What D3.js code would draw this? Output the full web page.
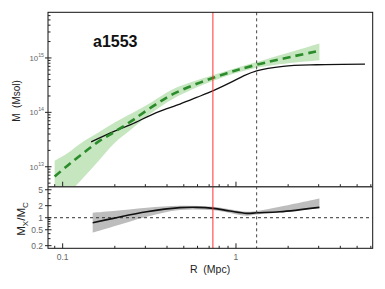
<!DOCTYPE html>
<html>
<head>
<meta charset="utf-8">
<script src="https://cdn.jsdelivr.net/npm/d3@7"></script>
<style>
  body { margin: 0; background: #fff; }
  svg { display: block; font-family: "Liberation Sans", Arial, sans-serif; }
</style>
</head>
<body>
<div id="chart"></div>
<script>
// cumulative mass profiles
const greenR   = [0.0899, 0.107, 0.128, 0.160, 0.1995, 0.249, 0.324, 0.435, 0.740, 1.316, 3.03];
const greenM   = [6.6e12, 1.06e13, 1.67e13, 2.86e13, 4.4e13, 6.9e13, 1.23e14, 2.18e14, 4.32e14, 7.5e14, 1.35e15];
const greenLo  = [1.68e12, 3.1e12, 5.7e12, 1.25e13, 2.74e13, 4.9e13, 9.6e13, 1.78e14, 3.8e14, 6.6e14, 9.1e14];
const greenHi  = [1.29e13, 1.79e13, 2.74e13, 4.2e13, 6.5e13, 9.5e13, 1.52e14, 2.68e14, 4.85e14, 8.4e14, 1.85e15];

const blackR = [0.146, 0.1995, 0.249, 0.347, 0.475, 0.593, 0.740, 0.965, 1.10, 1.316, 1.87, 2.92, 5.55];
const blackM = [2.86e13, 4.5e13, 6.0e13, 9.9e13, 1.42e14, 1.88e14, 2.51e14, 3.75e14, 4.65e14, 5.8e14, 7.0e14, 7.5e14, 7.7e14];

// mass ratio Mx/Mc
const ratioR  = [0.149, 0.196, 0.305, 0.475, 0.593, 0.740, 0.923, 1.153, 1.316, 1.79, 3.03];
const ratio   = [0.75, 0.966, 1.41, 1.78, 1.82, 1.72, 1.47, 1.29, 1.33, 1.41, 1.82];
const ratioR2 = [0.149, 0.196, 0.305, 0.475, 0.740, 1.153, 1.316, 1.79, 3.03];
const ratioLo = [0.42, 0.60, 1.06, 1.56, 1.53, 1.12, 1.2, 1.35, 1.75];
const ratioHi = [1.33, 1.47, 1.78, 2.0, 1.88, 1.41, 1.48, 1.88, 3.02];

const rRed = 0.736;      // red vertical
const rDashed = 1.316;   // black dashed vertical

const topMajor = [1e13, 1e14, 1e15];
const botMajor = [0.2, 0.5, 1, 2, 5];
const botMinor = [0.3, 0.4, 0.6, 0.7, 0.8, 0.9, 3, 4];
const xMajor = [0.1, 1];
const xMinor = [0.09, 0.2, 0.3, 0.4, 0.5, 0.6, 0.7, 0.8, 0.9, 2, 3, 4, 5, 6];

const W = 385, H = 289;
const L = 48, R = 372.7, T = 12.3, MID = 186.7, B = 248.3;

const svg = d3.select('#chart').append('svg')
  .attr('width', W).attr('height', H);

const x = d3.scaleLog().domain([0.0823, 6.15]).range([L, R]);
const yTop = d3.scaleLog().domain([4.3e12, 6.9e15]).range([MID, T]);
const yBot = d3.scaleLog().domain([0.172, 5.96]).range([B, MID]);

const defs = svg.append('defs');
defs.append('clipPath').attr('id', 'clip-top')
  .append('rect').attr('x', L).attr('y', T).attr('width', R - L).attr('height', MID - T);
defs.append('clipPath').attr('id', 'clip-bot')
  .append('rect').attr('x', L).attr('y', MID).attr('width', R - L).attr('height', B - MID);

// top panel
const gTop = svg.append('g').attr('clip-path', 'url(#clip-top)');

const greenBand = d3.area()
  .x((d, i) => x(greenR[i]))
  .y0((d, i) => yTop(greenLo[i]))
  .y1((d, i) => yTop(greenHi[i]))
  .curve(d3.curveCatmullRom);

gTop.append('path')
  .datum(greenR)
  .attr('d', greenBand)
  .attr('fill', '#c6e6c0');

const blackLine = d3.line()
  .x((d, i) => x(blackR[i]))
  .y((d, i) => yTop(blackM[i]))
  .curve(d3.curveCatmullRom);

gTop.append('path')
  .datum(blackR)
  .attr('d', blackLine)
  .attr('fill', 'none')
  .attr('stroke', '#111')
  .attr('stroke-width', 1.3);

const greenLine = d3.line()
  .x((d, i) => x(greenR[i]))
  .y((d, i) => yTop(greenM[i]))
  .curve(d3.curveCatmullRom);

gTop.append('path')
  .datum(greenR)
  .attr('d', greenLine)
  .attr('fill', 'none')
  .attr('stroke', '#2a8c2a')
  .attr('stroke-width', 2.6)
  .attr('stroke-dasharray', '8,5');

// bottom panel
const gBot = svg.append('g').attr('clip-path', 'url(#clip-bot)');

const grayBand = d3.area()
  .x((d, i) => x(ratioR2[i]))
  .y0((d, i) => yBot(ratioLo[i]))
  .y1((d, i) => yBot(ratioHi[i]))
  .curve(d3.curveCatmullRom);

gBot.append('path')
  .datum(ratioR2)
  .attr('d', grayBand)
  .attr('fill', '#bdbdbd');

gBot.append('line')
  .attr('x1', L).attr('x2', R)
  .attr('y1', yBot(1)).attr('y2', yBot(1))
  .attr('stroke', '#333')
  .attr('stroke-width', 1)
  .attr('stroke-dasharray', '3,3');

const ratioLine = d3.line()
  .x((d, i) => x(ratioR[i]))
  .y((d, i) => yBot(ratio[i]))
  .curve(d3.curveCatmullRom);

gBot.append('path')
  .datum(ratioR)
  .attr('d', ratioLine)
  .attr('fill', 'none')
  .attr('stroke', '#111')
  .attr('stroke-width', 1.7);

// vertical markers through both panels
svg.append('line')
  .attr('x1', x(rRed)).attr('x2', x(rRed))
  .attr('y1', T).attr('y2', B)
  .attr('stroke', '#ff3030')
  .attr('stroke-width', 1);

svg.append('line')
  .attr('x1', x(rDashed)).attr('x2', x(rDashed))
  .attr('y1', T).attr('y2', B)
  .attr('stroke', '#444')
  .attr('stroke-width', 1)
  .attr('stroke-dasharray', '3,3');

// frame
svg.append('rect')
  .attr('x', L).attr('y', T)
  .attr('width', R - L).attr('height', B - T)
  .attr('fill', 'none')
  .attr('stroke', '#111')
  .attr('stroke-width', 1);

svg.append('line')
  .attr('x1', L).attr('x2', R)
  .attr('y1', MID).attr('y2', MID)
  .attr('stroke', '#444')
  .attr('stroke-width', 1.5);

// ticks
const ticks = svg.append('g').attr('stroke', '#222').attr('stroke-width', 1);

function topMinors() {
  const out = [];
  for (let e = 12; e <= 15; e++) {
    for (let k = 2; k <= 9; k++) {
      const v = k * Math.pow(10, e);
      if (v > yTop.domain()[0] && v < yTop.domain()[1]) out.push(v);
    }
  }
  return out;
}

ticks.selectAll('.ty-maj').data(topMajor).enter().append('line')
  .attr('x1', L - 3).attr('x2', L + 3.5)
  .attr('y1', d => yTop(d)).attr('y2', d => yTop(d));
ticks.selectAll('.ty-min').data(topMinors()).enter().append('line')
  .attr('x1', L).attr('x2', L + 2.5)
  .attr('y1', d => yTop(d)).attr('y2', d => yTop(d));

ticks.selectAll('.by-maj').data(botMajor).enter().append('line')
  .attr('x1', L - 3).attr('x2', L + 3.5)
  .attr('y1', d => yBot(d)).attr('y2', d => yBot(d));
ticks.selectAll('.by-min').data(botMinor).enter().append('line')
  .attr('x1', L).attr('x2', L + 2.5)
  .attr('y1', d => yBot(d)).attr('y2', d => yBot(d));

[B, MID].forEach(y0 => {
  ticks.append('g').selectAll('line').data(xMajor).enter().append('line')
    .attr('x1', d => x(d)).attr('x2', d => x(d))
    .attr('y1', y0).attr('y2', y0 - 5);
  ticks.append('g').selectAll('line').data(xMinor).enter().append('line')
    .attr('x1', d => x(d)).attr('x2', d => x(d))
    .attr('y1', y0).attr('y2', y0 - 2.5);
});

// tick labels
const labelColor = '#666';

topMajor.forEach(v => {
  const t = svg.append('text')
    .attr('x', L - 4)
    .attr('y', yTop(v) + 3)
    .attr('text-anchor', 'end')
    .attr('font-size', 7.8)
    .attr('fill', labelColor);
  t.append('tspan').text('10');
  t.append('tspan')
    .attr('dy', -4)
    .attr('font-size', 5.2)
    .text(Math.round(Math.log10(v)));
});

svg.selectAll('.bylab').data(botMajor).enter().append('text')
  .attr('x', L - 5)
  .attr('y', d => yBot(d) + 3)
  .attr('text-anchor', 'end')
  .attr('font-size', 8.5)
  .attr('fill', labelColor)
  .text(d => d);

svg.selectAll('.xlab').data(xMajor).enter().append('text')
  .attr('x', d => x(d))
  .attr('y', 260)
  .attr('text-anchor', 'middle')
  .attr('font-size', 8.5)
  .attr('fill', labelColor)
  .text(d => d);

// axis titles
svg.append('text')
  .attr('x', 210).attr('y', 273)
  .attr('text-anchor', 'middle')
  .attr('font-size', 10.5)
  .attr('fill', '#222')
  .attr('xml:space', 'preserve')
  .text('R  (Mpc)');

svg.append('text')
  .attr('transform', 'translate(19.5,101) rotate(-90)')
  .attr('text-anchor', 'middle')
  .attr('font-size', 10)
  .attr('fill', '#222')
  .attr('xml:space', 'preserve')
  .text('M  (Msol)');

const ratioTitle = svg.append('text')
  .attr('transform', 'translate(25,219) rotate(-90)')
  .attr('text-anchor', 'middle')
  .attr('font-size', 11.5)
  .attr('fill', '#222');
ratioTitle.append('tspan').text('M');
ratioTitle.append('tspan').attr('dy', 3).attr('font-size', 8).text('X');
ratioTitle.append('tspan').attr('dy', -3).text('/M');
ratioTitle.append('tspan').attr('dy', 3).attr('font-size', 8).text('C');

svg.append('text')
  .attr('x', 93).attr('y', 47)
  .attr('font-size', 16)
  .attr('font-weight', 'bold')
  .attr('fill', '#111')
  .text('a1553');
</script>
</body>
</html>
